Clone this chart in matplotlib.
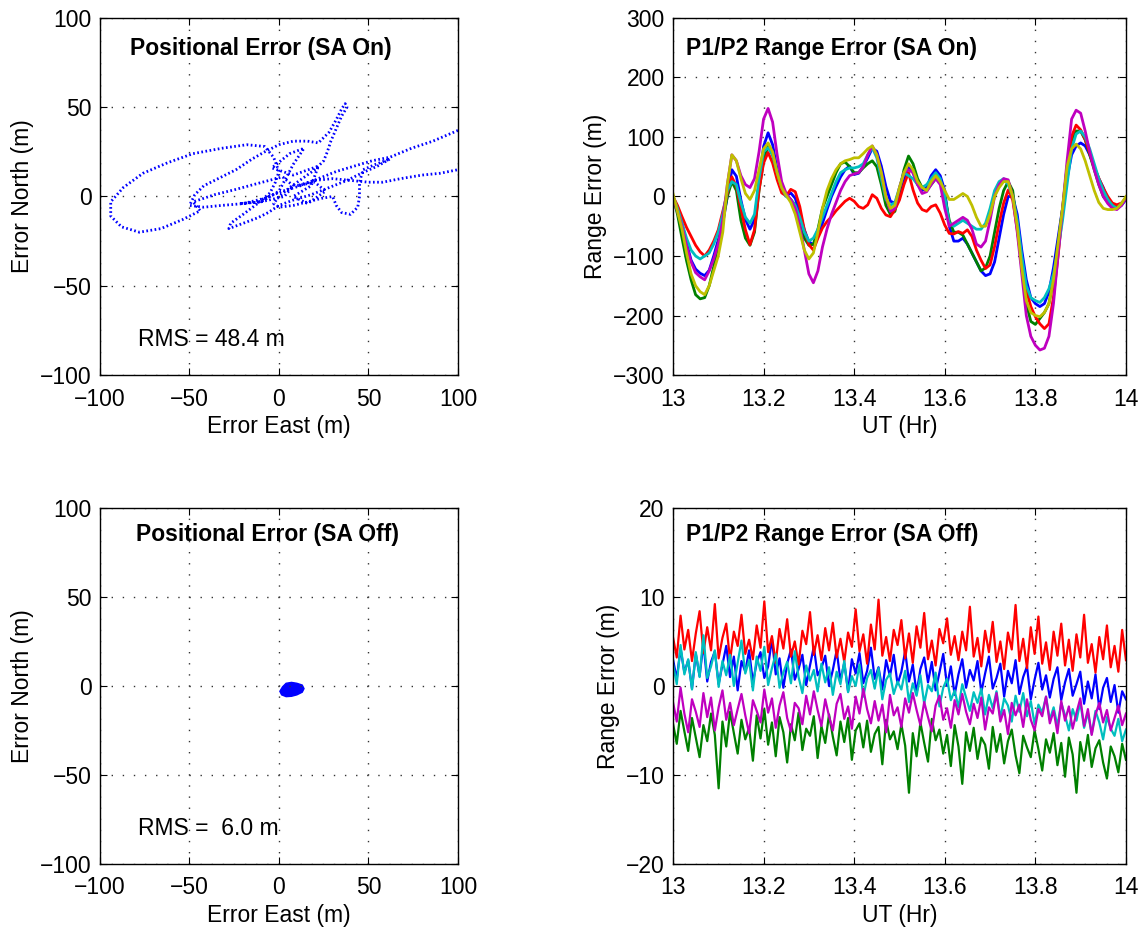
import numpy as np
import matplotlib
matplotlib.use("Agg")
import matplotlib.pyplot as plt

plt.rcParams['font.family'] = ['Liberation Sans', 'DejaVu Sans']
plt.rcParams['font.size'] = 16.5

# --- positional error, SA on (trajectory east/north in m) ---
east_on = [100, 86, 74, 62, 52, 42, 32, 22, 12, 2, -8, -20, -32, -42, -50,
           -47, -42, -34, -24, -15, -8, 0, 8, 16, 22,
           28, 32, 35, 37, 38, 35, 32, 29, 27, 25,
           20, 13, 6, 0, -3, 0, 8, 16, 24, 30,
           32, 35, 40, 44, 45, 45, 47, 54, 62,
           55, 46, 38, 28, 18, 8, 0, -6, -12, -20, -28, -27, -20, -12, -5, -2, 0, -3, -8,
           -18, -32, -48, -62, -76, -87, -94, -94, -88, -78, -66, -54, -44,
           -48, -36, -24, -13, 2, 8, 3, -10, -22, -10,
           0, 8, 14, 6, -4, 8, 22, 18, 8, 16, 26, 20,
           10, 20, 30, 40, 50, 58, 68, 80, 90, 100]
north_on = [37, 31, 27, 22, 20, 17, 14, 10, 6, 3, -1, -4, -5, -6, -5,
            1, 6, 10, 15, 21, 25, 29, 31, 31, 30,
            36, 43, 49, 52, 50, 45, 38, 31, 25, 20,
            15, 10, 5, 0, -4, -6, -5, -3, -1, 0,
            -5, -9, -10, -6, 0, 8, 15, 18, 21,
            17, 13, 9, 5, 1, -2, -5, -9, -12, -15, -18, -15, -10, -4, 2, 8, 14, 22, 28,
            29, 27, 24, 19, 13, 5, -3, -11, -17, -20, -18, -13, -8,
            -3, 1, 4, 7, 11, 6, 0, -3, -4, -3,
            3, 18, 27, 24, 16, 12, 17, 6, 0, -4, 3, 8,
            6, 9, 10, 9, 8, 8, 10, 12, 13, 15]
rms_on = 48.4

# --- positional error, SA off (cluster outline) ---
east_off = [0.5, 2, 4, 7, 10, 13, 14, 13, 10, 7, 4, 1.5, 0.5]
north_off = [-3, -0.5, 1.5, 2, 1.5, 0.5, -1.5, -3.5, -5, -5.8, -6, -5, -3]
rms_off = 6.0

# --- P1/P2 range error, SA on (one value every 0.01 hr from 13.00 to 14.00) ---
t_on = np.round(np.arange(13.0, 14.0001, 0.01), 2)
range_on = {
    'b': [0, -20, -45, -78, -107, -122, -129, -133, -124, -100, -73, -45, 0, 45, 34, -6, -39, -55, -39, 22,
          84, 107, 87, 45, 11, 1, 6, -3, -28, -56, -76, -81, -67, -45, -22, 0, 17, 33, 45, 51,
          37, 39, 51, 65, 81, 76, 51, 17, -8, -11, 6, 30, 50, 40, 20, 10, 15, 35, 45, 35,
          10, -50, -75, -75, -70, -80, -95, -110, -125, -133, -130, -110, -70, -30, 0, 0, -30, -90, -140, -170,
          -180, -185, -180, -160, -120, -70, -20, 30, 70, 85, 90, 85, 70, 50, 30, 15, -5, -15, -20, -15, -5],
    'g': [0, -30, -70, -108, -140, -165, -172, -170, -150, -118, -80, -40, 0, 25, 10, -40, -70, -82, -60, 10,
          60, 85, 70, 40, 10, 2, -5, -15, -40, -70, -82, -80, -55, -20, 0, 20, 40, 55, 58, 50,
          40, 40, 48, 55, 60, 50, 20, -15, -30, -25, 10, 45, 68, 55, 30, 15, 10, 20, 30, 25,
          0, -40, -60, -60, -65, -80, -95, -110, -125, -120, -100, -60, -20, 10, 25, 10, -50, -120, -180, -210,
          -215, -205, -195, -180, -140, -80, -20, 50, 95, 110, 110, 95, 70, 45, 20, 0, -10, -15, -18, -12, -3],
    'r': [0, -15, -34, -52, -67, -82, -93, -100, -90, -75, -56, -25, 5, 33, 17, -20, -56, -81, -56, 11,
          56, 74, 56, 28, 6, 1, 12, 8, -17, -56, -81, -90, -70, -53, -42, -34, -24, -16, -8, -3,
          -8, -17, -20, -14, 3, -3, -20, -31, -34, -22, -6, 20, 40, 11, -11, -22, -25, -17, -14, -28,
          -48, -62, -63, -59, -62, -56, -67, -90, -107, -121, -115, -84, -45, -11, 11, -6, -56, -112, -157, -185,
          -202, -214, -222, -214, -169, -101, -28, 45, 101, 120, 112, 96, 73, 48, 31, 14, 0, -11, -14, -11, -3],
    'c': [0, -20, -45, -70, -90, -100, -105, -100, -95, -80, -60, -30, 10, 25, 20, -10, -35, -45, -30, 30,
          75, 82, 70, 40, 15, 0, -5, -15, -35, -60, -75, -70, -55, -35, -15, 5, 25, 40, 45, 48,
          48, 50, 55, 70, 82, 65, 30, -5, -15, -10, 15, 40, 35, 30, 20, 15, 20, 30, 40, 30,
          0, -45, -50, -45, -40, -45, -50, -55, -55, -45, -20, 10, 25, 30, 20, 0, -40, -100, -150, -170,
          -175, -178, -170, -155, -130, -90, -40, 20, 80, 105, 110, 100, 80, 55, 30, 10, -5, -15, -20, -12, -3],
    'm': [0, -25, -50, -82, -110, -128, -135, -140, -125, -105, -80, -40, 20, 70, 60, 35, 20, 15, 30, 75,
          130, 148, 125, 70, 25, 5, -5, -20, -50, -90, -130, -145, -125, -85, -55, -30, -10, 10, 25, 35,
          38, 40, 50, 70, 85, 70, 40, 0, -25, -20, 15, 40, 45, 40, 20, 5, 8, 20, 30, 20,
          -20, -50, -45, -40, -35, -40, -55, -80, -85, -75, -40, 0, 20, 30, 28, 0, -60, -130, -200, -235,
          -250, -258, -255, -235, -180, -100, -20, 60, 130, 145, 140, 110, 75, 45, 20, 0, -12, -20, -22, -15, -3],
    'y': [5, -25, -55, -95, -130, -150, -160, -165, -150, -125, -100, -60, 20, 70, 60, 30, 5, -5, 10, 45,
          80, 90, 75, 40, 15, 2, -10, -30, -60, -90, -105, -95, -60, -20, 10, 30, 45, 55, 60, 62,
          65, 65, 72, 80, 85, 70, 40, 0, -20, -15, 15, 40, 55, 45, 25, 15, 10, 25, 35, 25,
          10, -5, -5, 0, 5, 0, -15, -35, -50, -50, -30, 0, 15, 25, 25, 0, -50, -120, -175, -195,
          -200, -202, -195, -180, -140, -80, -20, 50, 80, 88, 80, 60, 35, 10, -10, -20, -22, -22, -20, -12, 0],
}

# --- P1/P2 range error, SA off (120 samples per satellite) ---
t_off = np.linspace(13.0, 14.0, 120)
range_off = {
    'b': [3.0, 0.8, 4.2, 1.5, 2.9, -0.3, 3.6, 1.1, 4.8, 0.5, 2.7, 3.9, 0.2, 2.4, 4.5, 1.0, 3.3, -0.5, 2.8, 1.6,
          4.0, 0.4, 2.6, 3.8, 0.9, 2.2, 5.3, 1.3, 3.1, -0.2, 2.5, 4.1, 0.7, 1.9, 3.5, 0.1, 2.3, 4.4, 1.2, 2.0,
          3.4, 0.0, 1.8, 4.0, 0.6, 2.6, -0.6, 3.0, 1.4, 3.7, 0.3, 1.7, 4.3, 0.8, 2.1, -0.4, 2.9, 1.1, 3.5, 0.2,
          1.6, 3.9, 0.5, 2.4, -0.8, 1.9, 3.2, 0.4, 2.7, -0.5, 1.5, 3.6, 0.0, 2.2, -1.0, 1.3, 3.0, -0.2, 1.8, 0.6,
          2.8, -0.7, 1.4, 3.3, -0.3, 0.9, 2.5, -1.2, 1.7, 0.3, 2.9, -0.9, 1.0, 2.2, -1.5, 0.7, 2.6, -0.4, 1.2, -1.3,
          0.8, 2.1, -1.6, 0.4, 1.9, -1.1, 0.2, 1.6, -2.0, 0.5, -1.4, 1.3, -2.6, -0.2, 0.9, -1.8, 0.1, -3.0, -0.6, -1.5],
    'g': [-4.2, -6.5, -2.8, -5.1, -7.3, -3.6, -5.8, -8.0, -4.4, -6.2, -3.1, -5.5, -11.5, -4.0, -6.8, -2.9, -5.3, -7.6, -3.8, -6.0,
          -4.7, -8.4, -3.3, -5.9, -2.6, -6.6, -4.1, -7.9, -3.5, -5.2, -8.6, -4.3, -6.1, -3.0, -7.2, -4.8, -5.6, -3.4, -8.1, -4.5,
          -6.4, -3.2, -5.7, -7.8, -4.0, -6.3, -3.6, -8.3, -5.0, -4.2, -6.9, -3.9, -7.4, -5.4, -4.6, -8.8, -3.8, -6.0, -5.1, -7.1,
          -4.3, -6.7, -12.0, -5.3, -7.9, -4.1, -6.4, -8.5, -3.7, -6.1, -4.9, -7.6, -5.5, -9.0, -4.4, -6.8, -11.0, -5.2, -7.3, -4.7,
          -8.2, -5.8, -6.6, -9.3, -4.6, -7.4, -5.4, -8.7, -6.2, -4.9, -7.8, -9.8, -5.6, -6.9, -8.0, -5.0, -7.1, -9.5, -6.0, -7.5,
          -5.3, -8.9, -6.4, -10.2, -5.8, -7.7, -12.0, -6.3, -8.4, -5.5, -9.1, -7.0, -6.1, -8.6, -10.4, -6.8, -7.9, -9.7, -6.5, -8.3],
    'r': [5.5, 3.2, 7.9, 4.1, 6.3, 2.8, 5.9, 8.4, 3.7, 6.6, 4.0, 9.2, 3.1, 5.4, 7.0, 2.9, 6.1, 4.5, 8.0, 3.6,
          5.2, 3.0, 6.8, 4.3, 9.5, 3.8, 5.6, 2.6, 6.4, 4.2, 7.5, 3.3, 5.0, 2.4, 6.2, 4.7, 8.3, 3.5, 5.7, 2.9,
          6.5, 4.0, 7.1, 3.2, 5.3, 2.7, 6.0, 4.4, 8.6, 3.9, 5.8, 2.5, 6.9, 4.1, 9.7, 3.4, 5.5, 2.8, 6.3, 4.6,
          7.4, 3.1, 5.9, 2.6, 6.7, 4.3, 8.2, 3.0, 5.1, 2.3, 6.4, 4.8, 7.6, 3.5, 5.6, 2.9, 6.1, 4.0, 8.9, 3.3,
          5.4, 2.2, 6.2, 3.8, 7.2, 2.7, 5.0, 1.9, 6.0, 4.1, 9.1, 2.8, 5.3, 2.0, 6.6, 3.6, 7.8, 2.5, 4.9, 1.8,
          6.1, 3.4, 7.0, 2.3, 5.2, 1.7, 5.8, 3.2, 8.0, 2.6, 4.7, 1.5, 5.5, 3.0, 6.8, 2.1, 4.5, 1.6, 6.3, 2.9],
    'c': [2.5, 0.2, 4.6, 1.3, 3.0, -0.4, 3.8, 1.0, 5.7, 0.9, 2.2, 4.0, -0.1, 2.8, 1.2, 3.5, 0.0, 2.6, 5.1, 1.4,
          2.9, -0.5, 3.3, 1.7, 4.4, 0.1, 2.0, 3.6, -0.2, 1.5, 2.7, 0.3, 3.9, 1.0, -0.8, 2.3, 0.6, 1.8, -0.6, 2.5,
          0.4, 2.1, -1.0, 1.6, 0.2, 2.8, -0.7, 1.1, 0.0, 2.4, -1.2, 0.9, 1.8, -0.3, 2.0, -1.5, 0.7, 1.4, -0.9, 0.5,
          -0.4, 1.7, -1.8, 0.3, -1.1, 1.2, -2.0, 0.1, -0.6, 1.5, -2.3, -0.2, 0.8, -1.6, -0.5, -2.4, 0.2, -1.3, -2.8, -0.7,
          -1.9, -0.3, -3.2, -1.0, -2.5, -0.6, -3.6, -1.4, -2.2, -4.0, -1.1, -2.9, -0.8, -3.4, -1.7, -4.3, -2.1, -3.0, -1.2, -3.8,
          -2.4, -4.5, -1.9, -3.3, -5.0, -2.6, -3.9, -1.8, -4.7, -3.0, -5.4, -2.8, -4.1, -6.0, -3.5, -4.8, -5.6, -3.7, -6.2, -4.9],
    'm': [-1.8, -4.0, -0.2, -3.1, -5.2, -1.5, -2.9, -4.6, -0.8, -3.5, -1.3, -5.0, -2.4, -0.5, -3.8, -1.9, -4.4, -2.6, -0.9, -3.3,
          -5.3, -1.6, -2.8, -4.1, -0.4, -3.0, -1.4, -4.7, -2.2, -0.7, -3.6, -5.1, -1.9, -2.5, -4.3, -1.1, -3.2, -0.6, -2.7, -4.5,
          -1.5, -3.4, -5.0, -2.0, -0.9, -3.7, -2.3, -4.8, -1.2, -3.1, -0.3, -2.6, -4.2, -1.7, -3.9, -2.1, -5.2, -1.0, -3.3, -2.4,
          -4.6, -1.4, -3.0, -0.8, -2.7, -4.4, -1.8, -3.5, -5.1, -2.2, -1.1, -3.8, -2.5, -4.7, -1.6, -3.2, -0.9, -2.9, -4.3, -2.0,
          -3.6, -1.3, -4.9, -2.4, -3.1, -0.8, -4.0, -2.7, -5.4, -1.9, -3.3, -2.1, -4.6, -1.5, -3.8, -5.0, -2.6, -3.4, -1.2, -4.2,
          -2.8, -5.3, -1.7, -3.9, -2.3, -4.8, -3.0, -1.4, -4.5, -2.6, -5.5, -3.2, -1.9, -4.1, -2.7, -5.0, -3.6, -2.2, -4.4, -3.1],
}

matlab_colors = {'b': (0, 0, 1), 'g': (0, 0.5, 0), 'r': (1, 0, 0),
                 'c': (0, 0.75, 0.75), 'm': (0.75, 0, 0.75), 'y': (0.75, 0.75, 0)}


def matlab_axes(ax):
    ax.grid(True, linestyle=(0, (1, 7)), color='0.2', linewidth=1.0)
    ax.tick_params(direction='in', top=True, right=True, length=5, width=0.8,
                   labelsize=16.5)
    ax.tick_params(axis='x', pad=9)
    ax.tick_params(axis='y', pad=6)
    for s in ax.spines.values():
        s.set_linewidth(1.0)


fig = plt.figure(figsize=(11.48, 9.31), dpi=100)
ax1 = fig.add_axes([0.0871, 0.5972, 0.3118, 0.3835])
ax2 = fig.add_axes([0.5862, 0.5972, 0.3946, 0.3835])
ax3 = fig.add_axes([0.0871, 0.0720, 0.3118, 0.3824])
ax4 = fig.add_axes([0.5862, 0.0720, 0.3946, 0.3824])

# top left
ax1.plot(east_on, north_on, color='b', linestyle=(0, (0.6, 0.9)), linewidth=2.0)
ax1.text(-79, -80, 'RMS = %.1f m' % rms_on, fontsize=16.5, va='center')
ax1.text(0.085, 0.915, 'Positional Error (SA On)', transform=ax1.transAxes,
         fontsize=16.5, fontweight='bold', va='center')

# bottom left
ax3.fill(east_off, north_off, color='b', linewidth=1)
ax3.text(-79, -80, 'RMS =  %.1f m' % rms_off, fontsize=16.5, va='center')
ax3.text(0.1, 0.925, 'Positional Error (SA Off)', transform=ax3.transAxes,
         fontsize=16.5, fontweight='bold', va='center')

for ax in (ax1, ax3):
    ax.set_xlim(-100, 100)
    ax.set_ylim(-100, 100)
    ax.set_xticks([-100, -50, 0, 50, 100])
    ax.set_yticks([-100, -50, 0, 50, 100])
    ax.set_xlabel('Error East (m)', labelpad=3)
    ax.set_ylabel('Error North (m)', labelpad=4)
    matlab_axes(ax)

# top right
for k in ['b', 'g', 'r', 'c', 'm', 'y']:
    ax2.plot(t_on, range_on[k], color=matlab_colors[k], linewidth=2.0)
ax2.set_ylim(-300, 300)
ax2.set_yticks(np.arange(-300, 301, 100))
ax2.text(0.029, 0.915, 'P1/P2 Range Error (SA On)', transform=ax2.transAxes,
         fontsize=16.5, fontweight='bold', va='center')

# bottom right
for k in ['b', 'g', 'r', 'c', 'm']:
    ax4.plot(t_off, range_off[k], color=matlab_colors[k], linewidth=1.6)
ax4.set_ylim(-20, 20)
ax4.set_yticks([-20, -10, 0, 10, 20])
ax4.text(0.029, 0.925, 'P1/P2 Range Error (SA Off)', transform=ax4.transAxes,
         fontsize=16.5, fontweight='bold', va='center')

for ax in (ax2, ax4):
    ax.set_xlim(13, 14)
    ax.set_xticks([13, 13.2, 13.4, 13.6, 13.8, 14])
    ax.set_xticklabels(['13', '13.2', '13.4', '13.6', '13.8', '14'])
    ax.set_xlabel('UT (Hr)', labelpad=3)
    ax.set_ylabel('Range Error (m)', labelpad=4)
    matlab_axes(ax)

fig.savefig('out.png', dpi=100)
